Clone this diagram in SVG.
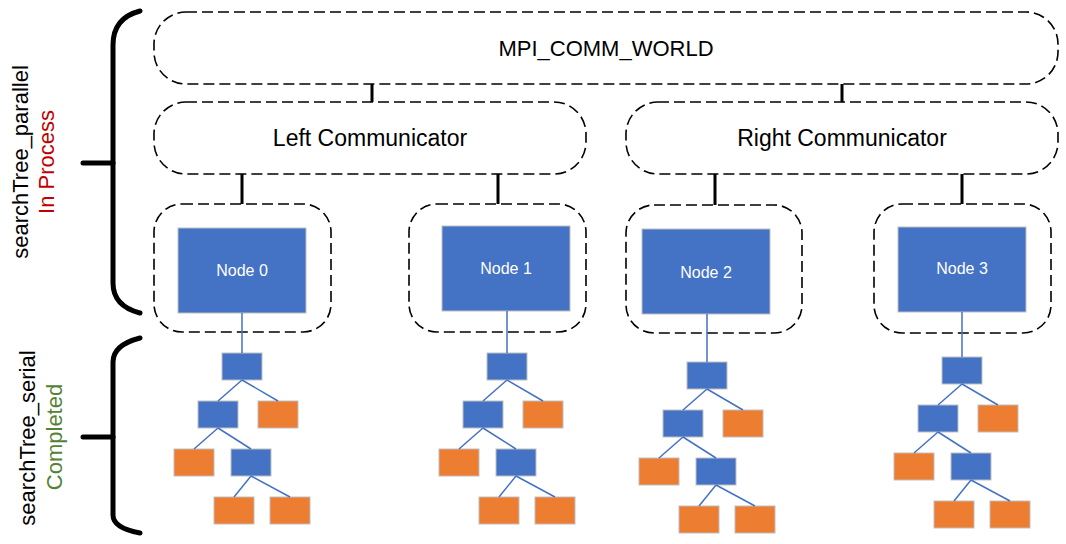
<svg xmlns="http://www.w3.org/2000/svg" width="1066" height="544" viewBox="0 0 1066 544">
<style>
  text { font-family: "Liberation Sans", Arial, sans-serif; }
  .dash { fill: #FFFFFF; stroke: #000000; stroke-width: 1.6; stroke-dasharray: 11 5; }
  .comm { fill: none; stroke: #000000; stroke-width: 3; }
  .brace { fill: none; stroke: #000000; stroke-width: 5; stroke-linecap: round; }
  .big { fill: #4472C4; stroke: #BFBFBF; stroke-width: 1; }
  .b { fill: #4472C4; stroke: #BFBFBF; stroke-width: 1; }
  .o { fill: #ED7D31; stroke: #BFBFBF; stroke-width: 1; }
  .edge { stroke: #4472C4; stroke-width: 1.5; fill: none; }
  .lbl { font-size: 22px; fill: #000000; text-anchor: middle; }
  .clbl { font-size: 23px; fill: #000000; text-anchor: middle; }
  .ntxt { font-size: 16px; fill: #FFFFFF; text-anchor: middle; }
</style>
<rect x="0" y="0" width="1066" height="544" fill="#FFFFFF"/>

<g id="braces">
  <path class="brace" d="M140,11 Q113,18 113,45 L113,283 Q113,306 140,313"/>
  <path class="brace" d="M83,163 L113,163"/>
  <path class="brace" d="M140,338 Q113,345 113,362 L113,515 Q113,528 140,533"/>
  <path class="brace" d="M83,437 L113,437"/>
</g>

<g id="side-labels">
  <text class="lbl" transform="translate(28,162) rotate(-90)">searchTree_parallel</text>
  <text class="lbl" transform="translate(54,162) rotate(-90)" style="fill:#C00000">In Process</text>
  <text class="lbl" transform="translate(35,438) rotate(-90)">searchTree_serial</text>
  <text class="lbl" transform="translate(62,437) rotate(-90)" style="fill:#548235">Completed</text>
</g>

<g id="mpi_comm_world">
  <rect class="dash" x="154" y="12" width="904" height="72" rx="32" ry="32"/>
  <text class="lbl" x="606" y="56">MPI_COMM_WORLD</text>
</g>
<g id="left_comm">
  <rect class="dash" x="154" y="102" width="432" height="72" rx="32" ry="32"/>
  <text class="clbl" x="370" y="146">Left Communicator</text>
</g>
<g id="right_comm">
  <rect class="dash" x="626" y="102" width="432" height="72" rx="32" ry="32"/>
  <text class="clbl" x="842" y="146">Right Communicator</text>
</g>

<g id="node0">
  <rect class="dash" x="154" y="204" width="177" height="128" rx="28" ry="28"/>
  <rect class="big" x="178" y="228" width="128" height="85"/>
  <text class="ntxt" x="242" y="276">Node 0</text>
</g>
<g id="node1">
  <rect class="dash" x="409" y="204" width="177" height="128" rx="28" ry="28"/>
  <rect class="big" x="442" y="226" width="128" height="85"/>
  <text class="ntxt" x="506" y="274">Node 1</text>
</g>
<g id="node2">
  <rect class="dash" x="626" y="205" width="176" height="128" rx="28" ry="28"/>
  <rect class="big" x="642" y="229" width="128" height="85"/>
  <text class="ntxt" x="706" y="278">Node 2</text>
</g>
<g id="node3">
  <rect class="dash" x="874" y="204" width="177" height="129" rx="28" ry="28"/>
  <rect class="big" x="898" y="227" width="128" height="85"/>
  <text class="ntxt" x="962" y="274">Node 3</text>
</g>

<g id="tree0">
  <rect class="b" x="222" y="353" width="40" height="27"/>
  <rect class="b" x="198" y="401" width="40" height="27"/>
  <rect class="o" x="258" y="401" width="40" height="27"/>
  <rect class="o" x="174" y="449" width="40" height="27"/>
  <rect class="b" x="231" y="449" width="40" height="27"/>
  <rect class="o" x="214" y="497" width="40" height="27"/>
  <rect class="o" x="270" y="497" width="40" height="27"/>
</g>
<g id="tree1">
  <rect class="b" x="487" y="353" width="40" height="27"/>
  <rect class="b" x="463" y="401" width="40" height="27"/>
  <rect class="o" x="523" y="401" width="40" height="27"/>
  <rect class="o" x="439" y="449" width="40" height="27"/>
  <rect class="b" x="496" y="449" width="40" height="27"/>
  <rect class="o" x="479" y="497" width="40" height="27"/>
  <rect class="o" x="535" y="497" width="40" height="27"/>
</g>
<g id="tree2">
  <rect class="b" x="687" y="362" width="40" height="27"/>
  <rect class="b" x="663" y="410" width="40" height="27"/>
  <rect class="o" x="723" y="410" width="40" height="27"/>
  <rect class="o" x="639" y="458" width="40" height="27"/>
  <rect class="b" x="696" y="458" width="40" height="27"/>
  <rect class="o" x="679" y="506" width="40" height="27"/>
  <rect class="o" x="735" y="506" width="40" height="27"/>
</g>
<g id="tree3">
  <rect class="b" x="942" y="357" width="40" height="27"/>
  <rect class="b" x="918" y="405" width="40" height="27"/>
  <rect class="o" x="978" y="405" width="40" height="27"/>
  <rect class="o" x="894" y="453" width="40" height="27"/>
  <rect class="b" x="951" y="453" width="40" height="27"/>
  <rect class="o" x="934" y="501" width="40" height="27"/>
  <rect class="o" x="990" y="501" width="40" height="27"/>
</g>

<g id="connectors">
  <path class="comm" d="M372,84 L372,102 M842,84 L842,102 M242,174 L242,204 M498,174 L498,204 M715,174 L715,205 M962,174 L962,204"/>
  <path class="edge" d="M242,313 L242,353 M242,380 L218,401 M242,380 L278,401 M218,428 L194,449 M218,428 L251,449 M251,476 L234,497 M251,476 L290,497"/>
  <path class="edge" d="M507,311 L507,353 M507,380 L483,401 M507,380 L543,401 M483,428 L459,449 M483,428 L516,449 M516,476 L499,497 M516,476 L555,497"/>
  <path class="edge" d="M707,314 L707,362 M707,389 L683,410 M707,389 L743,410 M683,437 L659,458 M683,437 L716,458 M716,485 L699,506 M716,485 L755,506"/>
  <path class="edge" d="M962,312 L962,357 M962,384 L938,405 M962,384 L998,405 M938,432 L914,453 M938,432 L971,453 M971,480 L954,501 M971,480 L1010,501"/>
</g>
</svg>
